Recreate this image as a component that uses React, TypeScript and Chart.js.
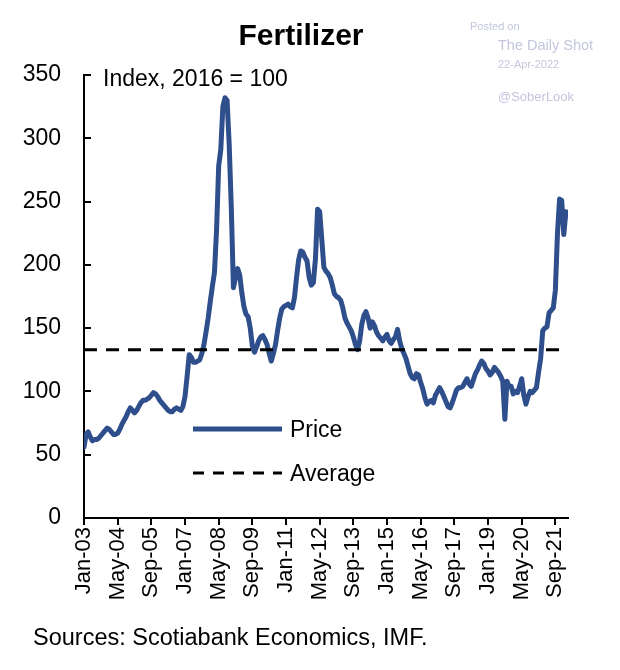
import React, { useEffect, useRef } from 'react';
import { Chart, registerables } from 'chart.js';

Chart.register(...registerables);

// ---- Data (monthly, Jan-03 .. Mar-22) ----
const MONTH_NAMES = ['Jan', 'Feb', 'Mar', 'Apr', 'May', 'Jun', 'Jul', 'Aug', 'Sep', 'Oct', 'Nov', 'Dec'];
const START_YEAR_2DIGIT = 3;

const priceIndex: number[] = [
  // 2003
  56, 66, 68, 64, 61, 62, 62, 63, 65, 67, 69, 71,
  // 2004
  70, 68, 66, 66, 67, 70, 74, 77, 80, 84, 87, 85,
  // 2005
  83, 85, 88, 91, 93, 93, 94, 95, 97, 99, 98, 96,
  // 2006
  93, 91, 89, 87, 85, 84, 84, 86, 87, 86, 85, 88,
  // 2007
  96, 112, 129, 127, 123, 123, 124, 125, 130, 137, 147, 158,
  // 2008
  171, 183, 194, 228, 278, 291, 325, 332, 330, 295, 245, 182,
  // 2009
  190, 197, 192, 178, 167, 161, 159, 150, 136, 131, 135, 140,
  // 2010
  143, 144, 141, 137, 130, 124, 130, 137, 148, 158, 165, 167,
  // 2011
  168, 169, 167, 166, 174, 190, 204, 211, 210, 206, 203, 190,
  // 2012
  184, 186, 205, 244, 242, 220, 198, 195, 193, 190, 184, 177,
  // 2013
  175, 174, 172, 166, 158, 154, 151, 148, 143, 137, 133, 140,
  // 2014
  153, 160, 163, 158, 150, 155, 152, 147, 144, 142, 140, 143,
  // 2015
  145, 140, 138, 141, 143, 149, 140, 134, 130, 126, 120, 114,
  // 2016
  111, 110, 114, 113, 107, 102, 95, 90, 92, 93, 91, 97,
  // 2017
  100, 103, 100, 96, 92, 88, 87, 91, 96, 101, 103, 103,
  // 2018
  104, 107, 110, 106, 104, 109, 114, 117, 121, 124, 122, 118,
  // 2019
  116, 113, 115, 119, 117, 115, 112, 108, 78, 108, 104, 104,
  // 2020
  98, 100, 99, 104, 110, 97, 90, 96, 100, 99, 101, 103,
  // 2021
  115, 126, 148, 150, 151, 162, 164, 166, 180, 225, 252, 251,
  // 2022
  224, 242, 239,
];

const averageLevel = 133;
const xTickEvery = 16; // months between labelled ticks
const yTickValues = [0, 50, 100, 150, 200, 250, 300, 350];

const monthLabels: string[] = priceIndex.map((_, i) => {
  const yr = START_YEAR_2DIGIT + Math.floor(i / 12);
  return MONTH_NAMES[i % 12] + '-' + String(yr).padStart(2, '0');
});

const TITLE = 'Fertilizer';
const SUBTITLE = 'Index, 2016 = 100';
const SOURCE = 'Sources: Scotiabank Economics, IMF.';
const SERIES_NAMES = ['Price', 'Average'];

const FONT = "'Liberation Sans', Arial, Helvetica, sans-serif";
const BLUE = '#2f4e8c';
const WATERMARK = '#c3c6dd';

const overlayPlugin = {
  id: 'overlay',
  afterDraw(chart: any) {
    const ctx = chart.ctx;
    const area = chart.chartArea;
    const yScale = chart.scales.y;
    ctx.save();

    // inward y tick marks
    ctx.strokeStyle = '#000';
    ctx.lineWidth = 2;
    yTickValues.forEach((v) => {
      const py = Math.round(yScale.getPixelForValue(v));
      ctx.beginPath();
      ctx.moveTo(area.left, py);
      ctx.lineTo(area.left + 7, py);
      ctx.stroke();
    });

    // title
    ctx.fillStyle = '#000';
    ctx.font = `bold 30px ${FONT}`;
    ctx.textAlign = 'center';
    ctx.textBaseline = 'alphabetic';
    ctx.fillText(TITLE, 301, 45);

    // subtitle
    ctx.font = `23px ${FONT}`;
    ctx.textAlign = 'left';
    ctx.fillText(SUBTITLE, 103, 86);

    // legend
    ctx.lineCap = 'butt';
    ctx.strokeStyle = BLUE;
    ctx.lineWidth = 5;
    ctx.beginPath();
    ctx.moveTo(193, 429);
    ctx.lineTo(282, 429);
    ctx.stroke();
    ctx.strokeStyle = '#000';
    ctx.lineWidth = 3;
    ctx.setLineDash([11, 9]);
    ctx.beginPath();
    ctx.moveTo(193, 473);
    ctx.lineTo(282, 473);
    ctx.stroke();
    ctx.setLineDash([]);
    ctx.fillStyle = '#000';
    ctx.textBaseline = 'middle';
    ctx.fillText(SERIES_NAMES[0], 290, 431);
    ctx.fillText(SERIES_NAMES[1], 290, 475);

    // source
    ctx.textBaseline = 'alphabetic';
    ctx.font = `23.5px ${FONT}`;
    ctx.fillText(SOURCE, 33, 645);

    // watermark
    ctx.fillStyle = WATERMARK;
    ctx.font = `11px ${FONT}`;
    ctx.fillText('Posted on', 470, 30);
    ctx.font = `14.5px ${FONT}`;
    ctx.fillText('The Daily Shot', 498, 50);
    ctx.font = `11px ${FONT}`;
    ctx.fillText('22-Apr-2022', 498, 68);
    ctx.font = `13px ${FONT}`;
    ctx.fillText('@SoberLook', 498, 101);

    ctx.restore();
  },
};

export default function App() {
  const canvasRef = useRef<HTMLCanvasElement | null>(null);

  useEffect(() => {
    document.body.style.margin = '0';
    const canvas = canvasRef.current;
    if (!canvas) return;

    const pricePoints = priceIndex.map((v, i) => ({ x: i, y: v }));
    const avgPoints = [
      { x: 0, y: averageLevel },
      { x: priceIndex.length - 1, y: averageLevel },
    ];

    const chart = new Chart(canvas, {
      type: 'line',
      data: {
        datasets: [
          {
            label: SERIES_NAMES[0],
            data: pricePoints,
            borderColor: BLUE,
            borderWidth: 5,
            pointRadius: 0,
            tension: 0,
            borderJoinStyle: 'round',
            borderCapStyle: 'round',
            fill: false,
            order: 1,
          },
          {
            label: SERIES_NAMES[1],
            data: avgPoints,
            borderColor: '#000',
            borderWidth: 3,
            borderDash: [13, 9],
            pointRadius: 0,
            fill: false,
            order: 0,
          },
        ],
      },
      options: {
        responsive: false,
        animation: false,
        events: [],
        layout: { padding: { top: 75, right: 52, bottom: 0, left: 0 } },
        plugins: {
          legend: { display: false },
          title: { display: false },
          tooltip: { enabled: false },
        },
        scales: {
          x: {
            type: 'linear',
            min: 0,
            max: priceIndex.length - 1,
            afterFit: (scale: any) => {
              scale.height = 152;
            },
            afterBuildTicks: (scale: any) => {
              const ticks: any[] = [];
              for (let v = 0; v < priceIndex.length; v += xTickEvery) ticks.push({ value: v });
              scale.ticks = ticks;
            },
            ticks: {
              autoSkip: false,
              minRotation: 90,
              maxRotation: 90,
              padding: 2,
              color: '#000',
              font: { family: FONT, size: 22 },
              callback: (value: any) => monthLabels[Number(value)] ?? '',
            },
            grid: {
              drawOnChartArea: false,
              drawTicks: true,
              tickLength: 7,
              color: '#000',
              lineWidth: 2,
            },
            border: { display: true, color: '#000', width: 2 },
          },
          y: {
            min: 0,
            max: 350,
            afterFit: (scale: any) => {
              scale.width = 84;
            },
            afterBuildTicks: (scale: any) => {
              scale.ticks = yTickValues.map((v) => ({ value: v }));
            },
            ticks: {
              padding: 23,
              color: '#000',
              font: { family: FONT, size: 23 },
            },
            grid: { drawOnChartArea: false, drawTicks: false },
            border: { display: true, color: '#000', width: 2 },
          },
        },
      },
      plugins: [overlayPlugin],
    } as any);

    return () => chart.destroy();
  }, []);

  return (
    <div style={{ position: 'absolute', left: 0, top: 0, width: 620, height: 670, background: '#fff' }}>
      <canvas ref={canvasRef} width={620} height={670} style={{ display: 'block' }} />
    </div>
  );
}
